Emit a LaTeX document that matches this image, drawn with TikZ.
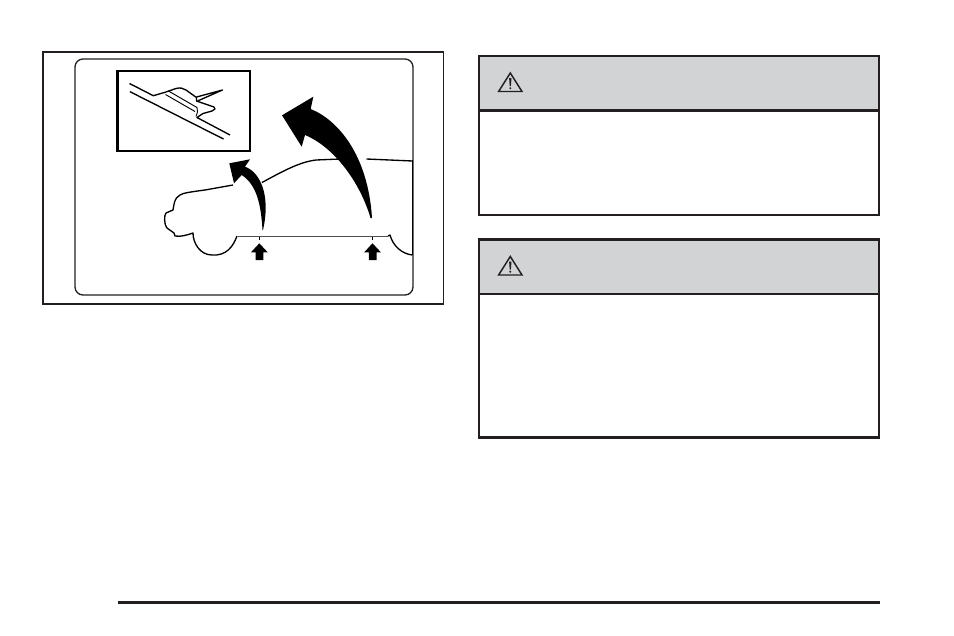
\documentclass[tikz,border=0pt]{standalone}
\usepackage{xcolor}
\usepackage{tikz}
\usetikzlibrary{positioning}
\definecolor{warnGrey}{HTML}{D1D3D4}
\definecolor{inkBlack}{HTML}{231F20}
\tikzset{
	frameLine/.style={draw=inkBlack,line width=1.4pt},
	carLine/.style={draw=black,line width=1pt,line join=round},
	blockArrow/.style={fill=black,draw=none},
	warnBody/.style={draw=inkBlack,line width=2pt,fill=white,minimum width=300pt,anchor=north west,inner sep=0pt},
	warnHead/.style={draw=inkBlack,line width=2pt,fill=warnGrey,minimum width=300pt,minimum height=41pt,anchor=north west,inner sep=0pt}
}
\newcommand{\plotWarningBox}[3]
{
	\node[warnBody,minimum height=#3*0.75pt](#1Body) at (477.5,#2){};
	\node[warnHead](#1Head) at (477.5,#2){};
	\begin{scope}[shift={(0,#2)}]
		\draw[draw=inkBlack,line width=1.1pt,line join=miter] (510.3,18.5) -- (498.6,37) -- (522,37) -- cycle;
		\fill[inkBlack] (509.1,23.5) -- (511.5,23.5) -- (510.9,31.5) -- (509.7,31.5) -- cycle;
		\fill[inkBlack] (510.3,33.7) circle (1.1);
	\end{scope}
}
\begin{document}
\begin{tikzpicture}[x=0.75pt,y=-0.75pt]
\useasboundingbox (0,0) rectangle (954,636);

% left picture
\draw[frameLine] (43,52) rectangle (443.5,304);
\draw[draw=inkBlack,line width=1pt,rounded corners=6pt] (75,59) rectangle (413,295);
\draw[draw=black,line width=1.9pt] (117.5,71) rectangle (250,151);

% inset
\draw[carLine] (129.5,83.5) -- (153.3,95.7) -- (165,92.3) -- (176,88.5) .. controls (180,87.5) and (183,88) .. (186,90) -- (196.5,97.5) -- (196.5,101) -- (214,107) -- (215,109) -- (212,111) -- (203,113.5) -- (197,117.5) -- (230,135);
\draw[carLine] (130,91.7) -- (223.5,139);
\draw[draw=black,line width=0.7pt] (168.5,91) -- (197,107.5) -- (197.5,112) -- (196,116.5);
\draw[draw=black,line width=0.7pt] (165.5,94.5) -- (195,111.5);
\draw[carLine] (196.5,97) -- (222.5,90) -- (197.5,101);

% car
\draw[carLine] (233,185) -- (205,190) .. controls (190,192) and (183,193) .. (180,195) .. controls (174,198) and (174,205) .. (173,210) -- (166,213) .. controls (164,215) and (164,225) .. (167,228) -- (174,233) -- (175,236) .. controls (181,237) and (187,235) .. (193,233) .. controls (193,243) and (200,255) .. (212,255) .. controls (226,256) and (233,247) .. (237,236);
\draw[carLine] (262,182.5) .. controls (285,170) and (300,162) .. (316,160) -- (340,159);
\draw[carLine] (366.5,159) -- (412.5,161);
\draw[draw=inkBlack!80,line width=1.3pt] (238,236.5) -- (388,236.5);
\draw[carLine] (388,236) -- (390,235) .. controls (393,246) and (402,254) .. (412.5,255);
\draw[draw=black,line width=1.1pt] (412.5,160) -- (412.5,255);
\draw[draw=black,line width=0.7pt] (259.5,236.5) -- (259.5,240);
\draw[draw=black,line width=0.7pt] (372.5,236.5) -- (372.5,240);

% curved arrows
\fill[blockArrow] (229.3,163.3) -- (250,159.3) -- (245,166.7) .. controls (260,172) and (271,195) .. (263,230) -- (262.5,230) .. controls (261,205) and (257,185) .. (241.7,175) -- (234,183.3) -- cycle;
\fill[blockArrow] (282,115.3) -- (313.3,96.7) -- (310.7,109) .. controls (338,120) and (368,155) .. (372,218) -- (370.5,218) .. controls (360,182) and (334,147) .. (305,135) -- (301.7,146.7) -- cycle;

% up arrows
\fill[blockArrow] (259.3,243.3) -- (251,252.3) -- (255.7,252.3) -- (255.7,260) -- (263.3,260) -- (263.3,252.3) -- (267.7,252.3) -- cycle;
\fill[blockArrow] (372.5,243.3) -- (364.2,252.3) -- (368.9,252.3) -- (368.9,260) -- (376.5,260) -- (376.5,252.3) -- (380.9,252.3) -- cycle;

% warnings
\plotWarningBox{warnOne}{54.5}{159}
\plotWarningBox{warnTwo}{238}{198}

% rule at the foot
\coordinate (ruleStart) at (118,602.5);
\coordinate (ruleEnd) at (880,602.5);
\draw[draw=inkBlack,line width=2.25pt] (ruleStart) -- (ruleEnd);
\end{tikzpicture}
\end{document}
